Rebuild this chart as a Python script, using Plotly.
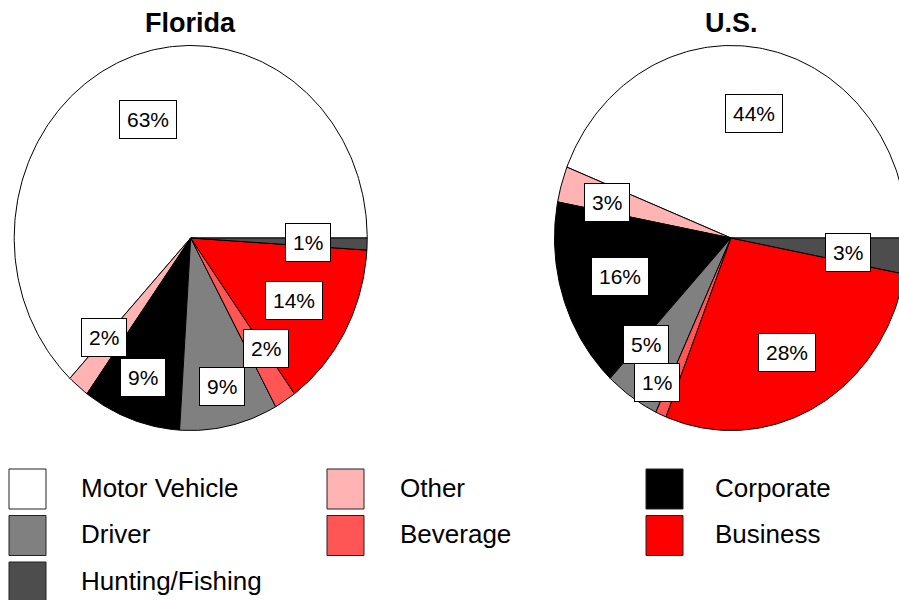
import numpy as np
import plotly.graph_objects as go

# ---------------- data ----------------
CATEGORIES = ["Motor Vehicle", "Other", "Corporate", "Driver",
              "Beverage", "Business", "Hunting/Fishing"]
FLORIDA = [63, 2, 9, 9, 2, 14, 1]
US = [44, 3, 16, 5, 1, 28, 3]
PIE_TITLES = ["Florida", "U.S."]

# ---------------- styles / layout ----------------
COLORS = ["#ffffff", "#ffb3b3", "#000000", "#808080",
          "#ff5555", "#ff0000", "#4d4d4d"]
W, H = 899, 600
CENTERS = [(190.7, 238.0), (731.0, 238.0)]
RX, RY = 176.5, 192.5
# label placement: fraction of radius and angular nudge (deg) per slice
LABEL_FRAC = [[0.662, 0.713, 0.772, 0.791, 0.715, 0.672, 0.667],
              [0.662, 0.726, 0.660, 0.732, 0.860, 0.674, 0.669]]
LABEL_TURN = [[-2.1, -3.9, -0.9, 0.3, 4.2, -0.3, -0.4],
              [-0.5, 1.5, -0.2, -7.0, -5.7, -0.8, -1.2]]
FONT = "Liberation Sans, Arial, sans-serif"

fig = go.Figure()
annotations = []
shapes = []

for p, values in enumerate([FLORIDA, US]):
    cx, cy = CENTERS[p]
    total = float(sum(values))
    start = 0.0
    for i, v in enumerate(values):
        sweep = 360.0 * v / total
        a0, a1 = start, start + sweep
        n = max(3, int(sweep) + 2)
        t = np.radians(np.linspace(a0, a1, n))
        xs = np.concatenate([[cx], cx + RX * np.cos(t), [cx]])
        ys = np.concatenate([[cy], cy - RY * np.sin(t), [cy]])
        fig.add_trace(go.Scatter(
            x=xs, y=ys, mode="lines", fill="toself",
            fillcolor=COLORS[i], line=dict(color="black", width=1),
            name=CATEGORIES[i], showlegend=False, hoverinfo="name"))
        mid = np.radians((a0 + a1) / 2 + LABEL_TURN[p][i])
        f = LABEL_FRAC[p][i]
        annotations.append(dict(
            x=cx + f * RX * np.cos(mid), y=cy - f * RY * np.sin(mid),
            xref="x", yref="y", text=f"{v}%", showarrow=False,
            xanchor="center", yanchor="middle",
            bgcolor="white", bordercolor="black", borderwidth=1, borderpad=7,
            font=dict(family=FONT, size=21, color="black")))
        start = a1
    annotations.append(dict(
        x=cx, y=23, xref="x", yref="y", text=f"<b>{PIE_TITLES[p]}</b>",
        showarrow=False, xanchor="center", yanchor="middle",
        font=dict(family=FONT, size=27, color="black")))

# legend (3 columns, row-major)
COL_X = [9, 327, 646]
TEXT_X = [79, 398, 713]
ROW_Y = [469, 515.5, 562]
for i, name in enumerate(CATEGORIES):
    r, c = divmod(i, 3)
    shapes.append(dict(type="rect", xref="x", yref="y",
                       x0=COL_X[c], x1=COL_X[c] + 37,
                       y0=ROW_Y[r], y1=ROW_Y[r] + 40,
                       fillcolor=COLORS[i], line=dict(color="#222222", width=1)))
    annotations.append(dict(
        x=TEXT_X[c], y=ROW_Y[r] + 18.5, xref="x", yref="y", text=name,
        showarrow=False, xanchor="left", yanchor="middle",
        font=dict(family=FONT, size=26, color="black")))

fig.update_layout(
    width=W, height=H, margin=dict(l=0, r=0, t=0, b=0),
    paper_bgcolor="white", plot_bgcolor="white",
    xaxis=dict(range=[0, W], visible=False, fixedrange=True),
    yaxis=dict(range=[H, 0], visible=False, fixedrange=True),
    annotations=annotations, shapes=shapes, showlegend=False)

fig.write_html("out.html",
               config={"displayModeBar": False},
               post_script="document.body.style.margin='0';"
                           "document.body.style.overflow='hidden';")
